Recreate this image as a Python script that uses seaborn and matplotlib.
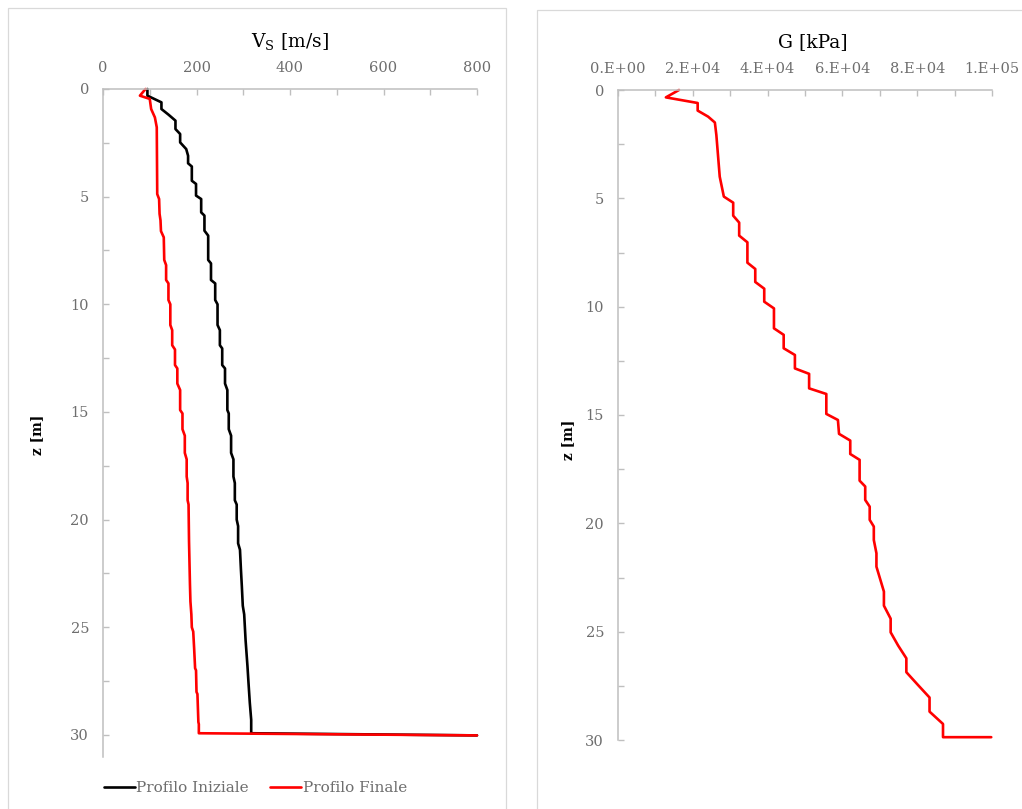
import matplotlib
matplotlib.use('Agg')
import matplotlib.pyplot as plt
import seaborn as sns
import pandas as pd
from matplotlib.ticker import MultipleLocator, FuncFormatter
from matplotlib.patches import Rectangle

# ---------------- data ----------------
# Profilo Iniziale: shear wave velocity Vs [m/s] vs depth z [m]
z_ini = [0.0, 0.31, 0.62, 0.93, 1.19, 1.47, 1.86, 2.09, 2.48, 2.79, 3.1, 3.45, 3.6, 4.26,
         4.41, 4.95, 5.11, 5.73, 5.88, 6.58, 6.81, 7.94, 8.1, 8.87, 9.03, 9.8, 10.0, 10.96,
         11.2, 11.9, 12.05, 12.82, 12.98, 13.68, 13.98, 14.91, 15.07, 15.8, 16.1, 16.9,
         17.2, 18.0, 18.3, 19.1, 19.3, 20.0, 20.3, 21.1, 21.4, 22.3, 23.1, 24.0, 24.4,
         25.6, 26.8, 27.5, 28.5, 29.3, 29.92, 30.02]
vs_ini = [95, 95, 125, 125, 140, 155, 155, 165, 165, 178, 182, 182, 190, 190,
          199, 199, 210, 210, 217, 217, 225, 225, 231, 231, 240, 240, 245, 245,
          250, 250, 255, 255, 261, 261, 266, 266, 269, 269, 274, 274,
          279, 279, 282, 282, 286, 286, 289, 289, 293, 295, 297, 299, 302,
          305, 309, 311, 314, 317, 317, 800]

# Profilo Finale: Vs [m/s] vs depth z [m]
z_fin = [0.0, 0.31, 0.46, 0.93, 1.32, 1.78, 4.88, 5.11, 5.8, 6.1, 6.6, 6.89, 7.94, 8.18,
         8.87, 9.03, 9.8, 10.0, 10.96, 11.2, 11.9, 12.1, 12.82, 12.98, 13.68, 13.98,
         14.91, 15.07, 15.8, 16.1, 16.9, 17.2, 18.0, 18.3, 19.1, 19.3, 21.0, 22.0, 23.0,
         23.8, 24.4, 25.0, 25.2, 26.0, 26.9, 27.0, 28.0, 28.1, 29.4, 29.5, 29.92, 30.02]
vs_fin = [91, 79, 100, 103, 111, 115, 116, 120, 121, 123, 124, 130, 131, 135,
          135, 140, 140, 144, 144, 148, 148, 154, 154, 159, 159, 165,
          165, 170, 170, 175, 175, 179, 179, 181, 181, 183, 184, 185, 186,
          187, 189, 190, 193, 195, 197, 199, 200, 202, 204, 205, 205, 800]

# Shear modulus G [kPa] (Profilo Finale) vs depth z [m]
z_g = [0.0, 0.34, 0.6, 0.95, 1.23, 1.5, 2.08, 4.0, 4.92, 5.2, 5.8, 6.12, 6.72, 7.03,
       7.97, 8.26, 8.86, 9.17, 9.77, 10.08, 11.0, 11.3, 11.92, 12.23, 12.85, 13.1,
       13.77, 14.03, 14.95, 15.23, 15.87, 16.18, 16.8, 17.07, 18.03, 18.3, 18.92,
       19.23, 19.84, 20.15, 20.77, 21.38, 22.0, 23.15, 23.8, 24.4, 25.03, 25.64,
       26.23, 26.87, 27.46, 28.04, 28.69, 29.26, 29.87, 29.87]
g_fin = [16300, 12800, 21300, 21300, 24100, 25900, 26300, 27200, 28300, 30800, 30800,
         32400, 32400, 34600, 34600, 36700, 36700, 39100, 39100, 41700, 41700, 44300,
         44300, 47300, 47300, 51100, 51100, 55700, 55700, 58800, 59100, 62100, 62100,
         64600, 64600, 66100, 66100, 67300, 67300, 68400, 68400, 69100, 69100, 71100,
         71100, 72900, 72900, 74900, 77100, 77100, 80200, 83300, 83300, 86900, 86900,
         99800]

series_names = ['Profilo Iniziale', 'Profilo Finale']

# ---------------- styling ----------------
sns.set_theme(style='white')
plt.rcParams['font.family'] = ['DejaVu Serif']
plt.rcParams['mathtext.fontset'] = 'dejavuserif'

AXC = '#BFBFBF'
TXC = '#6E6E6E'
W, H = 1022, 809

fig = plt.figure(figsize=(W / 100, H / 100), dpi=100)
fig.patch.set_facecolor('white')

ax1 = fig.add_axes([103 / W, 1 - 756.5 / H, 374 / W, 667.5 / H])
ax2 = fig.add_axes([618 / W, 1 - 740 / H, 374 / W, 650 / H])

df_ini = pd.DataFrame({'Vs': vs_ini, 'z': z_ini})
df_fin = pd.DataFrame({'Vs': vs_fin, 'z': z_fin})
df_g = pd.DataFrame({'G': g_fin, 'z': z_g})

sns.lineplot(data=df_ini, x='Vs', y='z', sort=False, estimator=None, color='black',
             lw=1.9, ax=ax1, label=series_names[0], legend=False)
sns.lineplot(data=df_fin, x='Vs', y='z', sort=False, estimator=None, color='#FF0000',
             lw=1.9, ax=ax1, label=series_names[1], legend=False)
sns.lineplot(data=df_g, x='G', y='z', sort=False, estimator=None, color='#FF0000',
             lw=1.9, ax=ax2, legend=False)

ax1.set_xlim(0, 800)
ax1.set_ylim(31, 0)
ax1.xaxis.set_major_locator(MultipleLocator(200))
ax1.xaxis.set_minor_locator(MultipleLocator(100))

ax2.set_xlim(0, 1e5)
ax2.set_ylim(30, 0)
ax2.xaxis.set_major_locator(MultipleLocator(20000))
ax2.xaxis.set_minor_locator(MultipleLocator(10000))
ax2.xaxis.set_major_formatter(FuncFormatter(lambda v, p: format(v, '#.0E')))

for ax in (ax1, ax2):
    ax.set_facecolor('white')
    ax.xaxis.tick_top()
    ax.yaxis.set_major_locator(MultipleLocator(5))
    ax.yaxis.set_minor_locator(MultipleLocator(2.5))
    ax.set_xlabel('')
    ax.set_ylabel('')
    for s in ('right', 'bottom'):
        ax.spines[s].set_visible(False)
    for s in ('top', 'left'):
        ax.spines[s].set_color(AXC)
        ax.spines[s].set_linewidth(1.1)
    ax.tick_params(which='both', direction='in', length=4, width=1, color=AXC,
                   labelcolor=TXC, labelsize=10.5, pad=10,
                   top=True, bottom=False, left=True, right=False,
                   labeltop=True, labelbottom=False)
    for ln in ax.lines:
        ln.set_clip_on(False)

# panel frames (Excel chart areas)
fig.add_artist(Rectangle((8 / W, -0.01), (506 - 8) / W, 1 - 8 / H + 0.01,
                         transform=fig.transFigure, fill=False, ec='#D9D9D9', lw=0.9))
fig.add_artist(Rectangle((537 / W, -0.01), (W + 10 - 537) / W, 1 - 10 / H + 0.01,
                         transform=fig.transFigure, fill=False, ec='#D9D9D9', lw=0.9))

# titles
fig.text(290 / W, 1 - 42 / H, r'V$_{\mathregular{S}}$ [m/s]', ha='center', va='center',
         fontsize=13.5, color='black')
fig.text(813 / W, 1 - 42 / H, 'G [kPa]', ha='center', va='center',
         fontsize=13.5, color='black')
fig.text(37 / W, 1 - 435 / H, 'z [m]', rotation=90, ha='center', va='center',
         fontsize=10, fontweight='bold', color='black')
fig.text(568 / W, 1 - 440 / H, 'z [m]', rotation=90, ha='center', va='center',
         fontsize=10, fontweight='bold', color='black')

handles, labels = ax1.get_legend_handles_labels()
leg = fig.legend(handles, labels, loc='center left', bbox_to_anchor=(104 / W, 1 - 788 / H),
                 ncol=2, frameon=False, fontsize=11, handlelength=2.0, handletextpad=0.12,
                 columnspacing=1.4, borderpad=0, borderaxespad=0)
for t in leg.get_texts():
    t.set_color(TXC)

fig.savefig('out.png', dpi=100, facecolor='white')
